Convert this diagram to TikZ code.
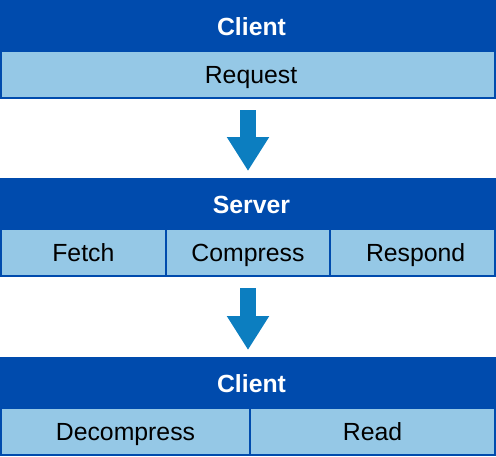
\documentclass[tikz,border=0pt]{standalone}
\usepackage{fontspec}
\setmainfont{Liberation Sans}
\usepackage{tikz}
\usetikzlibrary{positioning}
\usetikzlibrary{arrows.meta}
\usepackage{xcolor}
\definecolor{headblue}{RGB}{0,75,173}
\definecolor{cellblue}{RGB}{149,200,230}
\definecolor{arrowblue}{RGB}{12,126,192}
\tikzset{
  head/.style={fill=headblue,text=white,font=\fontsize{24.8}{28}\selectfont\bfseries,
    minimum width=503pt,minimum height=53pt,inner sep=0pt,outer sep=0pt,
    text height=17.6pt,text depth=0pt},
  cell/.style={fill=cellblue,draw=headblue,line width=2pt,font=\fontsize{24.8}{28}\selectfont,
    minimum height=47pt,inner sep=0pt,outer sep=0pt,text height=17.6pt,text depth=0pt},
  flow/.style={arrowblue,line width=16pt,-{Triangle[width=40pt,length=34pt]},
    shorten <=12pt,shorten >=7pt}
}

\begin{document}
\begin{tikzpicture}[x=1pt,y=1pt]
\useasboundingbox (0,0) rectangle (496,-456);
% first client
\node[head] (cli1) at (251.5,-26.5) {Client};
\node[cell,minimum width=494pt] (req) at (248,-74.5) {\hspace{6pt}Request};
% server
\node[head] (srv) at (251.5,-204.5) {Server};
\node[cell,minimum width=164.67pt] (fet) at (83.33,-252.5) {Fetch\hspace{8pt}};
\node[cell,minimum width=164.67pt] (cmp) at (248,-252.5) {Compress};
\node[cell,minimum width=164.67pt] (rsp) at (412.67,-252.5) {\hspace{6pt}Respond};
% second client
\node[head] (cli2) at (251.5,-383.5) {Client};
\node[cell,minimum width=249pt] (dec) at (125.5,-431.5) {Decompress};
\node[cell,minimum width=245pt] (rd) at (372.5,-431.5) {Read};
% arrows
\draw[flow] (req.south) -- (cmp.north|-srv.north);
\draw[flow] (cmp.south) -- (cmp.south|-cli2.north);
\end{tikzpicture}
\end{document}
